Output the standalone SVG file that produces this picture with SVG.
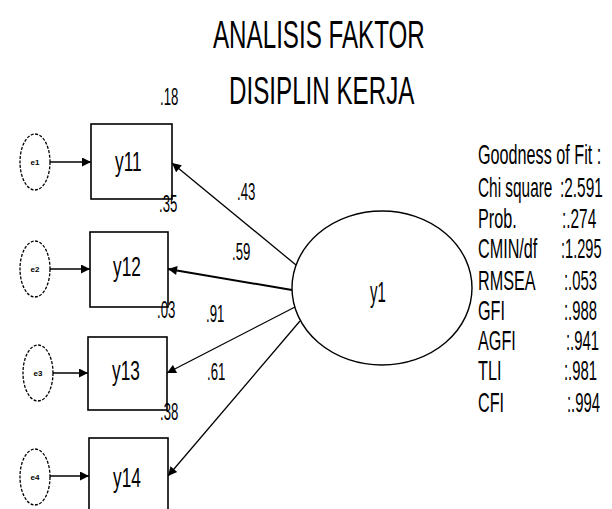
<svg xmlns="http://www.w3.org/2000/svg" width="612" height="509" viewBox="0 0 612 509">
<style>
text{font-family:"Liberation Sans",Arial,sans-serif;fill:#000}
.title{font-size:39px}
.num{font-size:24px}
.obs{font-size:27px}
.fit{font-size:27px}
.err{font-size:8px;font-weight:bold}
.box{fill:#fff;stroke:#000;stroke-width:1.6}
.e{fill:#fff;stroke:#000;stroke-width:1.3;stroke-dasharray:3,1.5}
.lat{fill:#fff;stroke:#000;stroke-width:1.4}
.c{stroke:#000;stroke-width:1.3;fill:none;marker-end:url(#ah)}
</style>
<defs>
<marker id="ah" viewBox="0 0 10 10" refX="10" refY="5" markerWidth="11" markerHeight="9" markerUnits="userSpaceOnUse" orient="auto"><path d="M0,0 L10,5 L0,10 z" fill="#000"/></marker>
</defs>
<rect width="612" height="509" fill="#fff"/>
<g id="title">
<text class="title" transform="translate(213,48) scale(0.62,1)">ANALISIS FAKTOR</text>
<text class="title" transform="translate(229,104) scale(0.62,1)">DISIPLIN KERJA</text>
</g>
<g id="connectors">
<path class="c" d="M50,162 L91,162"/>
<path class="c" d="M50,269 L90,269"/>
<path class="c" d="M53,373 L88,373"/>
<path class="c" d="M50,476 L89,476"/>
<path class="c" d="M296,265 L172,163"/>
<path class="c" d="M292,290 L168,269" style="stroke-width:2"/>
<path class="c" d="M295,307 L167,373"/>
<path class="c" d="M300,321 L168,476"/>
</g>
<g id="e1"><ellipse class="e" cx="35" cy="162" rx="15" ry="28"/><text class="err" x="35" y="165" text-anchor="middle">e1</text></g>
<g id="e2"><ellipse class="e" cx="35" cy="269" rx="15" ry="28"/><text class="err" x="35" y="272" text-anchor="middle">e2</text></g>
<g id="e3"><ellipse class="e" cx="38" cy="373" rx="15" ry="28"/><text class="err" x="38" y="376" text-anchor="middle">e3</text></g>
<g id="e4"><ellipse class="e" cx="35" cy="477" rx="15" ry="28"/><text class="err" x="35" y="480" text-anchor="middle">e4</text></g>
<g id="y11"><rect class="box" x="91" y="124" width="81" height="75"/><text class="obs" transform="translate(115,171) scale(0.64,1)">y11</text></g>
<g id="y12"><rect class="box" x="90" y="232" width="78" height="75"/><text class="obs" transform="translate(113,276) scale(0.64,1)">y12</text></g>
<g id="y13"><rect class="box" x="88" y="337" width="79" height="73"/><text class="obs" transform="translate(112,380) scale(0.64,1)">y13</text></g>
<g id="y14"><rect class="box" x="89" y="438" width="79" height="80"/><text class="obs" transform="translate(113,487) scale(0.64,1)">y14</text></g>
<g id="y1"><ellipse class="lat" cx="382" cy="288" rx="90" ry="77"/><text class="obs" transform="translate(370,302) scale(0.5,1)" style="font-size:30px">y1</text></g>
<g id="labels">
<text class="num" transform="translate(160,105) scale(0.55,1)">.18</text>
<text class="num" transform="translate(159,212) scale(0.55,1)">.35</text>
<text class="num" transform="translate(157,318) scale(0.55,1)">.03</text>
<text class="num" transform="translate(160,420) scale(0.55,1)">.38</text>
<text class="num" transform="translate(237,200) scale(0.55,1)">.43</text>
<text class="num" transform="translate(232,260) scale(0.55,1)">.59</text>
<text class="num" transform="translate(206,322) scale(0.55,1)">.91</text>
<text class="num" transform="translate(207,380) scale(0.55,1)">.61</text>
</g>
<g id="fit">
<text class="fit" transform="translate(478,164) scale(0.6,1)">Goodness of Fit :</text>
<text class="fit" transform="translate(478,197) scale(0.57,1)">Chi square</text>
<text class="fit" transform="translate(560,197) scale(0.57,1)">:2.591</text>
<text class="fit" transform="translate(478,228) scale(0.6,1)">Prob.</text>
<text class="fit" transform="translate(562,228) scale(0.57,1)">:.274</text>
<text class="fit" transform="translate(478,258) scale(0.6,1)">CMIN/df</text>
<text class="fit" transform="translate(561,258) scale(0.54,1)">:1.295</text>
<text class="fit" transform="translate(478,290) scale(0.6,1)">RMSEA</text>
<text class="fit" transform="translate(564,290) scale(0.55,1)">:.053</text>
<text class="fit" transform="translate(478,320) scale(0.6,1)">GFI</text>
<text class="fit" transform="translate(564,320) scale(0.55,1)">:.988</text>
<text class="fit" transform="translate(478,350) scale(0.6,1)">AGFI</text>
<text class="fit" transform="translate(566,350) scale(0.55,1)">:.941</text>
<text class="fit" transform="translate(478,380) scale(0.6,1)">TLI</text>
<text class="fit" transform="translate(564,380) scale(0.55,1)">:.981</text>
<text class="fit" transform="translate(478,412) scale(0.6,1)">CFI</text>
<text class="fit" transform="translate(567,412) scale(0.55,1)">:.994</text>
</g>
</svg>
